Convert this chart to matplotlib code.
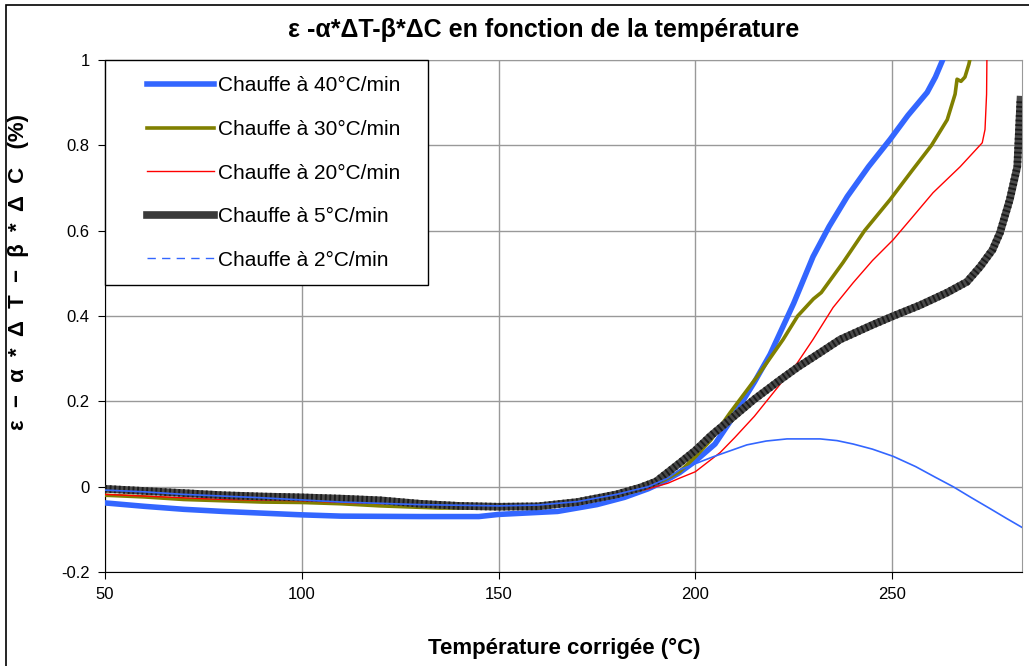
import numpy as np
import matplotlib
matplotlib.use('Agg')
import matplotlib.pyplot as plt
from matplotlib.patches import Rectangle
from matplotlib.lines import Line2D

plt.rcParams['font.family'] = ['Liberation Sans', 'DejaVu Sans']

# Donnees (temperature en °C, deformation en %)
t40 = [50, 60, 70, 80, 90, 100, 110, 130, 145, 150, 165, 175, 182, 188, 192, 196,
       200, 205, 209, 215, 219, 221, 225, 229.9, 234, 238.6, 244, 249.5, 254, 258.9,
       261, 262.7, 264]
e40 = [-0.038, -0.046, -0.053, -0.058, -0.062, -0.066, -0.069, -0.070, -0.070, -0.065,
       -0.058, -0.042, -0.025, -0.005, 0.012, 0.033, 0.060, 0.10, 0.155, 0.245, 0.31,
       0.35, 0.43, 0.539, 0.61, 0.68, 0.75, 0.814, 0.87, 0.924, 0.96, 0.997, 1.03]

t30 = [50, 60, 70, 80, 90, 100, 110, 120, 135, 150, 160, 170, 180, 187, 192, 196,
       200, 204, 208.8, 215.7, 222.3, 226, 230, 232, 237.5, 243, 249.5, 255, 260,
       264, 266, 266.5, 267.5, 268.5, 269.5, 270.2]
e30 = [-0.020, -0.024, -0.030, -0.033, -0.036, -0.037, -0.040, -0.045, -0.050, -0.050,
       -0.047, -0.038, -0.022, -0.005, 0.015, 0.035, 0.07, 0.11, 0.173, 0.258, 0.345,
       0.40, 0.44, 0.455, 0.525, 0.60, 0.673, 0.74, 0.80, 0.86, 0.92, 0.955, 0.95,
       0.96, 0.99, 1.02]

t20 = [50, 60, 70, 80, 100, 110, 130, 150, 160, 170, 180, 188, 193, 196, 200, 206.3,
       210, 215, 219.8, 225.9, 229.9, 235, 240.1, 245, 250.3, 255, 260.4, 267.3,
       272.9, 273.6, 274.0, 274.1]
e20 = [-0.018, -0.022, -0.026, -0.030, -0.033, -0.037, -0.042, -0.045, -0.043, -0.036,
       -0.022, -0.005, 0.008, 0.020, 0.035, 0.08, 0.115, 0.165, 0.22, 0.29, 0.345,
       0.42, 0.478, 0.53, 0.579, 0.63, 0.689, 0.75, 0.806, 0.837, 0.92, 1.02]

t5 = [50, 60, 70, 80, 90, 100, 110, 120, 130, 140, 150, 160, 170, 180, 186, 190,
      196.1, 200, 204, 208.8, 215, 221.5, 226, 231.7, 236.8, 245.2, 250.3, 257, 264,
      269, 272.4, 275.5, 277.4, 279.9, 281.8, 282.3, 282.6]
e5 = [-0.005, -0.010, -0.015, -0.020, -0.023, -0.025, -0.028, -0.032, -0.040, -0.045,
      -0.047, -0.046, -0.036, -0.018, -0.002, 0.012, 0.056, 0.085, 0.12, 0.157, 0.205,
      0.25, 0.28, 0.314, 0.345, 0.38, 0.40, 0.425, 0.455, 0.48, 0.516, 0.555, 0.595,
      0.673, 0.75, 0.85, 0.907]

t2 = [50, 60, 70, 80, 90, 100, 110, 130, 150, 160, 170, 180, 188, 193, 196.1, 204.5,
      213.1, 218, 223.3, 231.7, 236, 240.1, 245, 250.3, 256, 261, 265.5, 270, 275,
      279, 283.3]
e2 = [-0.008, -0.012, -0.018, -0.022, -0.026, -0.031, -0.036, -0.042, -0.045, -0.043,
      -0.035, -0.018, 0.0, 0.02, 0.04, 0.07, 0.098, 0.107, 0.112, 0.112, 0.108, 0.10,
      0.088, 0.071, 0.047, 0.022, 0.0, -0.025, -0.052, -0.074, -0.097]

labels = ['Chauffe à 40°C/min', 'Chauffe à 30°C/min', 'Chauffe à 20°C/min',
          'Chauffe à 5°C/min', 'Chauffe à 2°C/min']

x_ticks = [50, 100, 150, 200, 250]
y_ticks = [-0.2, 0, 0.2, 0.4, 0.6, 0.8, 1]
y_tick_labels = ['-0.2', '0', '0.2', '0.4', '0.6', '0.8', '1']

# Figure
fig = plt.figure(figsize=(10.29, 6.66), dpi=100)
ax = fig.add_axes([0.102, 0.1411, 0.8912, 0.7688])

ax.plot(t40, e40, color='#3366ff', lw=4.0, zorder=3)
ax.plot(t30, e30, color='#808000', lw=2.6, zorder=3)
ax.plot(t20, e20, color='#ff0000', lw=1.0, zorder=3)
# ligne 5°C/min : aspect hachure gris/noir
ax.plot(t5, e5, color='#4a4a4a', lw=5.5, zorder=3)
ax.plot(t5, e5, color='#1c1c1c', lw=5.5, ls=(0, (0.25, 0.35)), zorder=3)
ax.plot(t2, e2, color='#3366ff', lw=1.2, zorder=4)

ax.set_xlim(50, 283)
ax.set_ylim(-0.2, 1)
ax.set_xticks(x_ticks)
ax.set_yticks(y_ticks)
ax.set_yticklabels(y_tick_labels)
ax.tick_params(labelsize=12, length=5, direction='out', pad=6)
ax.grid(True, color='#999999', lw=1)
ax.set_axisbelow(True)
for s in ['top', 'right']:
    ax.spines[s].set_color('#999999')
for s in ['left', 'bottom']:
    ax.spines[s].set_color('black')

# Cadre blanc de la legende
ax.add_patch(Rectangle((0, 0.5605), 0.352, 0.4395, transform=ax.transAxes,
                       facecolor='white', edgecolor='black', lw=1, zorder=5,
                       clip_on=False))

handles = [
    Line2D([], [], color='#3366ff', lw=4.0),
    Line2D([], [], color='#808000', lw=2.6),
    Line2D([], [], color='#ff0000', lw=1.0),
    Line2D([], [], color='#3a3a3a', lw=5.5),
    Line2D([], [], color='#3366ff', lw=1.0, ls=(0, (6, 4.5))),
]
leg = ax.legend(handles, labels, loc='upper left', bbox_to_anchor=(0.0458, 0.968),
                frameon=False, fontsize=15, borderpad=0, borderaxespad=0,
                handlelength=3.2, handletextpad=0.2, labelspacing=1.18)
leg.set_zorder(6)

fig.text(0.528, 0.955, 'ε -α*ΔT-β*ΔC en fonction de la température',
         ha='center', va='center', fontsize=18, fontweight='bold')
fig.text(0.548, 0.027, 'Température corrigée (°C)', ha='center', va='center',
         fontsize=16, fontweight='bold')
fig.text(0.0175, 0.591, 'ε  −  α  *  Δ  T  −  β  *  Δ  C   (%)', ha='center',
         va='center', rotation=90, fontsize=16, fontweight='bold')

# Cadre autour de la figure
fig.patches.append(Rectangle((0.006, -0.01), 1.0, 1.0025, transform=fig.transFigure,
                             fill=False, edgecolor='black', lw=1.2))

plt.savefig('out.png', dpi=100)
